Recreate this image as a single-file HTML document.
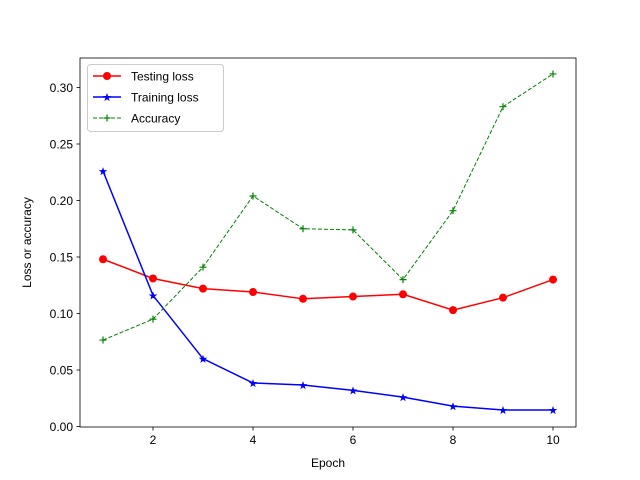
<!DOCTYPE html>
<html><head><meta charset="utf-8"><style>body{margin:0;background:#fff}svg{display:block;font-family:"Liberation Sans","DejaVu Sans",sans-serif}</style></head>
<body>
<svg width="640" height="480" viewBox="0 0 640 480">
<rect x="0" y="0" width="640" height="480" fill="#fff"/>
<g id="plot"></g>
</svg>
<script>
const epochs=[1,2,3,4,5,6,7,8,9,10];
const testingLoss=[0.148,0.131,0.122,0.119,0.113,0.115,0.117,0.103,0.114,0.130];
const trainingLoss=[0.226,0.116,0.060,0.0385,0.0367,0.032,0.026,0.018,0.0146,0.0146];
const accuracy=[0.0765,0.095,0.141,0.204,0.175,0.174,0.130,0.191,0.283,0.312];
const xTicks=[2,4,6,8,10];
const yTicks=[0,0.05,0.10,0.15,0.20,0.25,0.30];
const NS="http://www.w3.org/2000/svg";
const g=document.getElementById('plot');
const L=80,R=576,T=58,B=427;
const xs=e=>53+50*e;
const ys=v=>426.5-v*1130;
function mk(t,a,p){const e=document.createElementNS(NS,t);for(const k in a)e.setAttribute(k,a[k]);(p||g).appendChild(e);return e;}
xTicks.forEach(t=>{
 const l=mk('line',{x1:xs(t),x2:xs(t),y1:B,y2:B+3.5,stroke:'#000','stroke-width':0.8});
 
 
 const tx=mk('text',{x:xs(t),y:B+17,'font-size':12,'text-anchor':'middle'});tx.textContent=t;
 
 
});
yTicks.forEach(t=>{
 const l=mk('line',{x1:L-3.5,x2:L,y1:ys(t),y2:ys(t),stroke:'#000','stroke-width':0.8});
 
 
 const tx=mk('text',{x:L-7,y:ys(t)+4.5,'font-size':12,'text-anchor':'end'});tx.textContent=t.toFixed(2);
 
 
});
function series(vals,color,name,dash,width,marker){
 const pts=vals.map((v,i)=>xs(epochs[i])+','+ys(v)).join(' ');
 const pl=mk('polyline',{points:pts,fill:'none',stroke:color,'stroke-width':width});
 if(dash)pl.setAttribute('stroke-dasharray',dash);
 
 
 vals.forEach((v,i)=>drawMarker(marker,xs(epochs[i]),ys(v),color,name));
}
function starPts(cx,cy,r){let p=[];for(let k=0;k<10;k++){const a=-Math.PI/2+k*Math.PI/5;const rr=k%2?r*0.4:r;p.push((cx+rr*Math.cos(a)).toFixed(2)+','+(cy+rr*Math.sin(a)).toFixed(2));}return p.join(' ');}
function drawMarker(m,x,y,c,name){
 let e;
 if(m==='o')e=mk('circle',{cx:x,cy:y,r:4,fill:c});
 else if(m==='*')e=mk('polygon',{points:starPts(x,y+0.5,4.5),fill:c});
 else e=mk('path',{d:`M${x-3.5},${y}H${x+3.5}M${x},${y-3.5}V${y+3.5}`,stroke:c,'stroke-width':1.2});
 
 
}
series(testingLoss,'#ff0000','testing-loss',null,1.5,'o');
series(trainingLoss,'#0000ff','training-loss',null,1.5,'*');
series(accuracy,'#008000','accuracy','4,2',1,'+');
const fr=mk('rect',{x:L,y:T,width:R-L,height:B-T,fill:'none',stroke:'#000','stroke-width':0.8});


const xl=mk('text',{x:(L+R)/2,y:467,'font-size':12,'text-anchor':'middle'});xl.textContent='Epoch';


const yl=mk('text',{x:31,y:(T+B)/2,'font-size':12,'text-anchor':'middle',transform:`rotate(-90 31 ${(T+B)/2})`});yl.textContent='Loss or accuracy';


const lg=mk('g',{});


mk('rect',{x:87.5,y:64.5,width:136,height:67,rx:3,fill:'#fff','fill-opacity':0.8,stroke:'#ccc'},lg);
const entries=[['Testing loss','#ff0000',null,1.5,'o'],['Training loss','#0000ff',null,1.5,'*'],['Accuracy','#008000','4,2',1,'+']];
entries.forEach((en,i)=>{
 const y=76+i*21;
 const ln=mk('line',{x1:93,x2:121,y1:y,y2:y,stroke:en[1],'stroke-width':en[3]},lg);
 if(en[2])ln.setAttribute('stroke-dasharray',en[2]);
 
 
 drawMarker(en[4],107,y,en[1],'legend');
 const t=mk('text',{x:131,y:y+4.5,'font-size':12},lg);t.textContent=en[0];
 
 
});
</script>
</body></html>
